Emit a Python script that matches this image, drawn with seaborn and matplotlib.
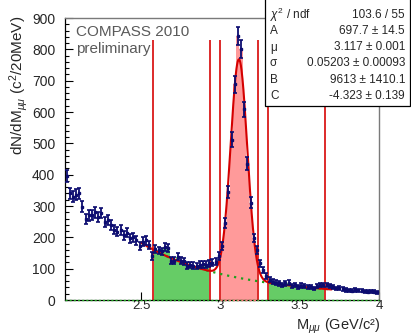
import numpy as np
import matplotlib
matplotlib.use("Agg")
import matplotlib.pyplot as plt
import matplotlib.patches as mpatches
from matplotlib.ticker import MultipleLocator, FixedLocator, FuncFormatter
import seaborn as sns

# ---- dimuon invariant mass spectrum, 20 MeV bins from 2.02 to 4.00 GeV/c^2 ----
mass_lo = 2.02
bin_width = 0.02
counts = [
    395, 340, 330, 336, 340, 298, 258, 270, 272, 280, 266, 277,
    250, 255, 239, 225, 218, 223, 207, 215, 197, 200, 190, 172,
    186, 190, 176, 140, 162, 158, 155, 168, 165, 125, 125, 138,
    125, 124, 110, 112, 110, 108, 113, 114, 113, 117, 119, 122,
    140, 172, 245, 345, 512, 688, 842, 802, 608, 435, 310, 198,
    160, 117, 96, 76,
    64, 58, 55, 53, 48, 53, 55, 44, 48, 42, 46, 44,
    42, 42, 37, 45, 48, 47, 48, 44, 42, 37, 38, 36,
    32, 31, 30, 32, 31, 30, 28, 27, 28, 27, 24,
]

# fit: A*gaus(mu, sigma) + B*M^C, fitted on 2.5-3.7 GeV/c^2
fit_range = (2.5, 3.7)
A, A_err = 697.7, 14.5
mu, mu_err = 3.117, 0.001
sigma, sigma_err = 0.05203, 0.00093
B, B_err = 9613, 1410.1
C, C_err = -4.323, 0.139
chi2, ndf = 103.6, 55

# signal window and sidebands, as half-widths around mu
half_widths = [0.12, 0.18, 0.54]
window_top = 830

x_ticks = [2.5, 3.0, 3.5, 4.0]

sns.set_theme(style="white")
plt.rcParams["font.family"] = ["Liberation Sans", "DejaVu Sans"]
plt.rcParams["mathtext.fontset"] = "custom"
plt.rcParams["mathtext.rm"] = "Liberation Sans"
plt.rcParams["mathtext.it"] = "Liberation Sans:italic"
plt.rcParams["mathtext.bf"] = "Liberation Sans:bold"

counts = np.asarray(counts, dtype=float)
edges = mass_lo + bin_width * np.arange(len(counts) + 1)
centers = edges[:-1] + bin_width / 2
errors = np.sqrt(counts)

W, H = 411, 335
fig = plt.figure(figsize=(W / 100, H / 100), dpi=100)
ax = fig.add_axes([65 / W, 1 - 300 / H, (379 - 65) / W, (300 - 18) / H])


def band(lo, hi, color):
    inner = edges[(edges > lo) & (edges < hi)]
    xs = np.concatenate([[lo], inner, [hi]])
    idx = np.clip(np.searchsorted(edges, xs[:-1], side="right") - 1, 0, len(counts) - 1)
    ys = counts[idx]
    ax.fill_between(xs, np.append(ys, ys[-1]), step="post", color=color, lw=0, zorder=1)


lo1, lo2, lo3 = [mu - h for h in half_widths]
hi1, hi2, hi3 = [mu + h for h in half_widths]
band(lo3, lo2, "#66cc66")
band(hi2, hi3, "#66cc66")
band(lo1, hi1, "#ff9a9a")

ax.vlines([lo3, lo2, lo1, hi1, hi2, hi3], 0, window_top, color="#dd2a2a", lw=1.4, zorder=2)

# fit curves
xf = np.linspace(fit_range[0], fit_range[1], 600)
bkg = B * xf ** C
total = A * np.exp(-0.5 * ((xf - mu) / sigma) ** 2) + bkg
sns.lineplot(x=xf, y=bkg, ax=ax, color="#1ea01e", lw=1.6, linestyle=(0, (1, 2.2)), zorder=3)
sns.lineplot(x=xf, y=total, ax=ax, color="#d40000", lw=1.5, zorder=4)

# zero lines of the histograms
ax.axhline(0, color="#22aa22", lw=1.0, linestyle=(0, (1.5, 1.5)), zorder=6, clip_on=False)
ax.plot([lo1, hi1], [0, 0], color="#ff7777", lw=1.0, linestyle=(0, (1.5, 1.5)), zorder=6, clip_on=False)

ax.errorbar(centers, counts, yerr=errors, fmt="s", ms=1.6, color="#0c0c70",
            ecolor="#0c0c70", elinewidth=1.3, capsize=1.7, capthick=1.2, zorder=5)

ax.set_xlim(mass_lo, edges[-1])
ax.set_ylim(0, 900)

ax.yaxis.set_major_locator(MultipleLocator(100))
ax.yaxis.set_minor_locator(MultipleLocator(20))
ax.xaxis.set_major_locator(FixedLocator(x_ticks))
ax.xaxis.set_major_formatter(FuncFormatter(lambda v, p: f"{v:g}"))
ax.tick_params(axis="y", which="major", direction="in", length=6, width=0.8,
               left=True, right=False, labelsize=10, pad=7, color="black")
ax.tick_params(axis="y", which="minor", direction="in", length=3, width=0.8,
               left=True, right=False, color="black")
ax.tick_params(axis="x", which="major", direction="in", length=6, width=0.8,
               bottom=True, top=False, labelsize=9.5, pad=0, color="black")

for s in ("left", "bottom"):
    ax.spines[s].set_color("black")
    ax.spines[s].set_linewidth(0.9)
for s in ("top", "right"):
    ax.spines[s].set_color("#7a7a7a")
    ax.spines[s].set_linewidth(1.0)

fig.text(380 / W, 1 - 329.5 / H, r"M$_{\mu\mu}$ (GeV/c²)", ha="right", va="baseline", fontsize=10.5)
fig.text(19 / W, 1 - 16 / H, r"dN/dM$_{\mu\mu}$ (c$^{2}$/20MeV)", rotation=90,
         ha="center", va="top", fontsize=11)

fig.text(76 / W, 1 - 36.5 / H, "COMPASS 2010", ha="left", va="baseline", fontsize=11, color="#5a5a5a")
fig.text(76 / W, 1 - 52.5 / H, "preliminary", ha="left", va="baseline", fontsize=11, color="#5a5a5a")

# statistics box
box = mpatches.Rectangle((265 / W, 1 - 106 / H), (409.5 - 265) / W, 106 / H + 0.05,
                         transform=fig.transFigure, facecolor="white", edgecolor="black",
                         lw=0.9, zorder=10)
fig.patches.append(box)
rows = [
    (r"$\chi^{2}$ / ndf", f"{chi2:g} / {ndf}"),
    ("A", f"{A:.1f} \u00b1 {A_err:.1f}"),
    ("\u03bc", f"{mu:.3f} \u00b1 {mu_err:.3f}"),
    ("\u03c3", f"{sigma:.5f} \u00b1 {sigma_err:.5f}"),
    ("B", f"{B:g} \u00b1 {B_err:.1f}"),
    ("C", f"{C:.3f} \u00b1 {C_err:.3f}"),
]
row_y = [15, 31.5, 47.5, 63.5, 80, 96.5]
for (lab, val), yy in zip(rows, row_y):
    fig.text(270 / W, 1 - yy / H, lab, ha="left", va="center", fontsize=8.5, zorder=11)
    fig.text(405 / W, 1 - yy / H, val, ha="right", va="center", fontsize=8.5, zorder=11)

fig.savefig("out.png", dpi=100)
